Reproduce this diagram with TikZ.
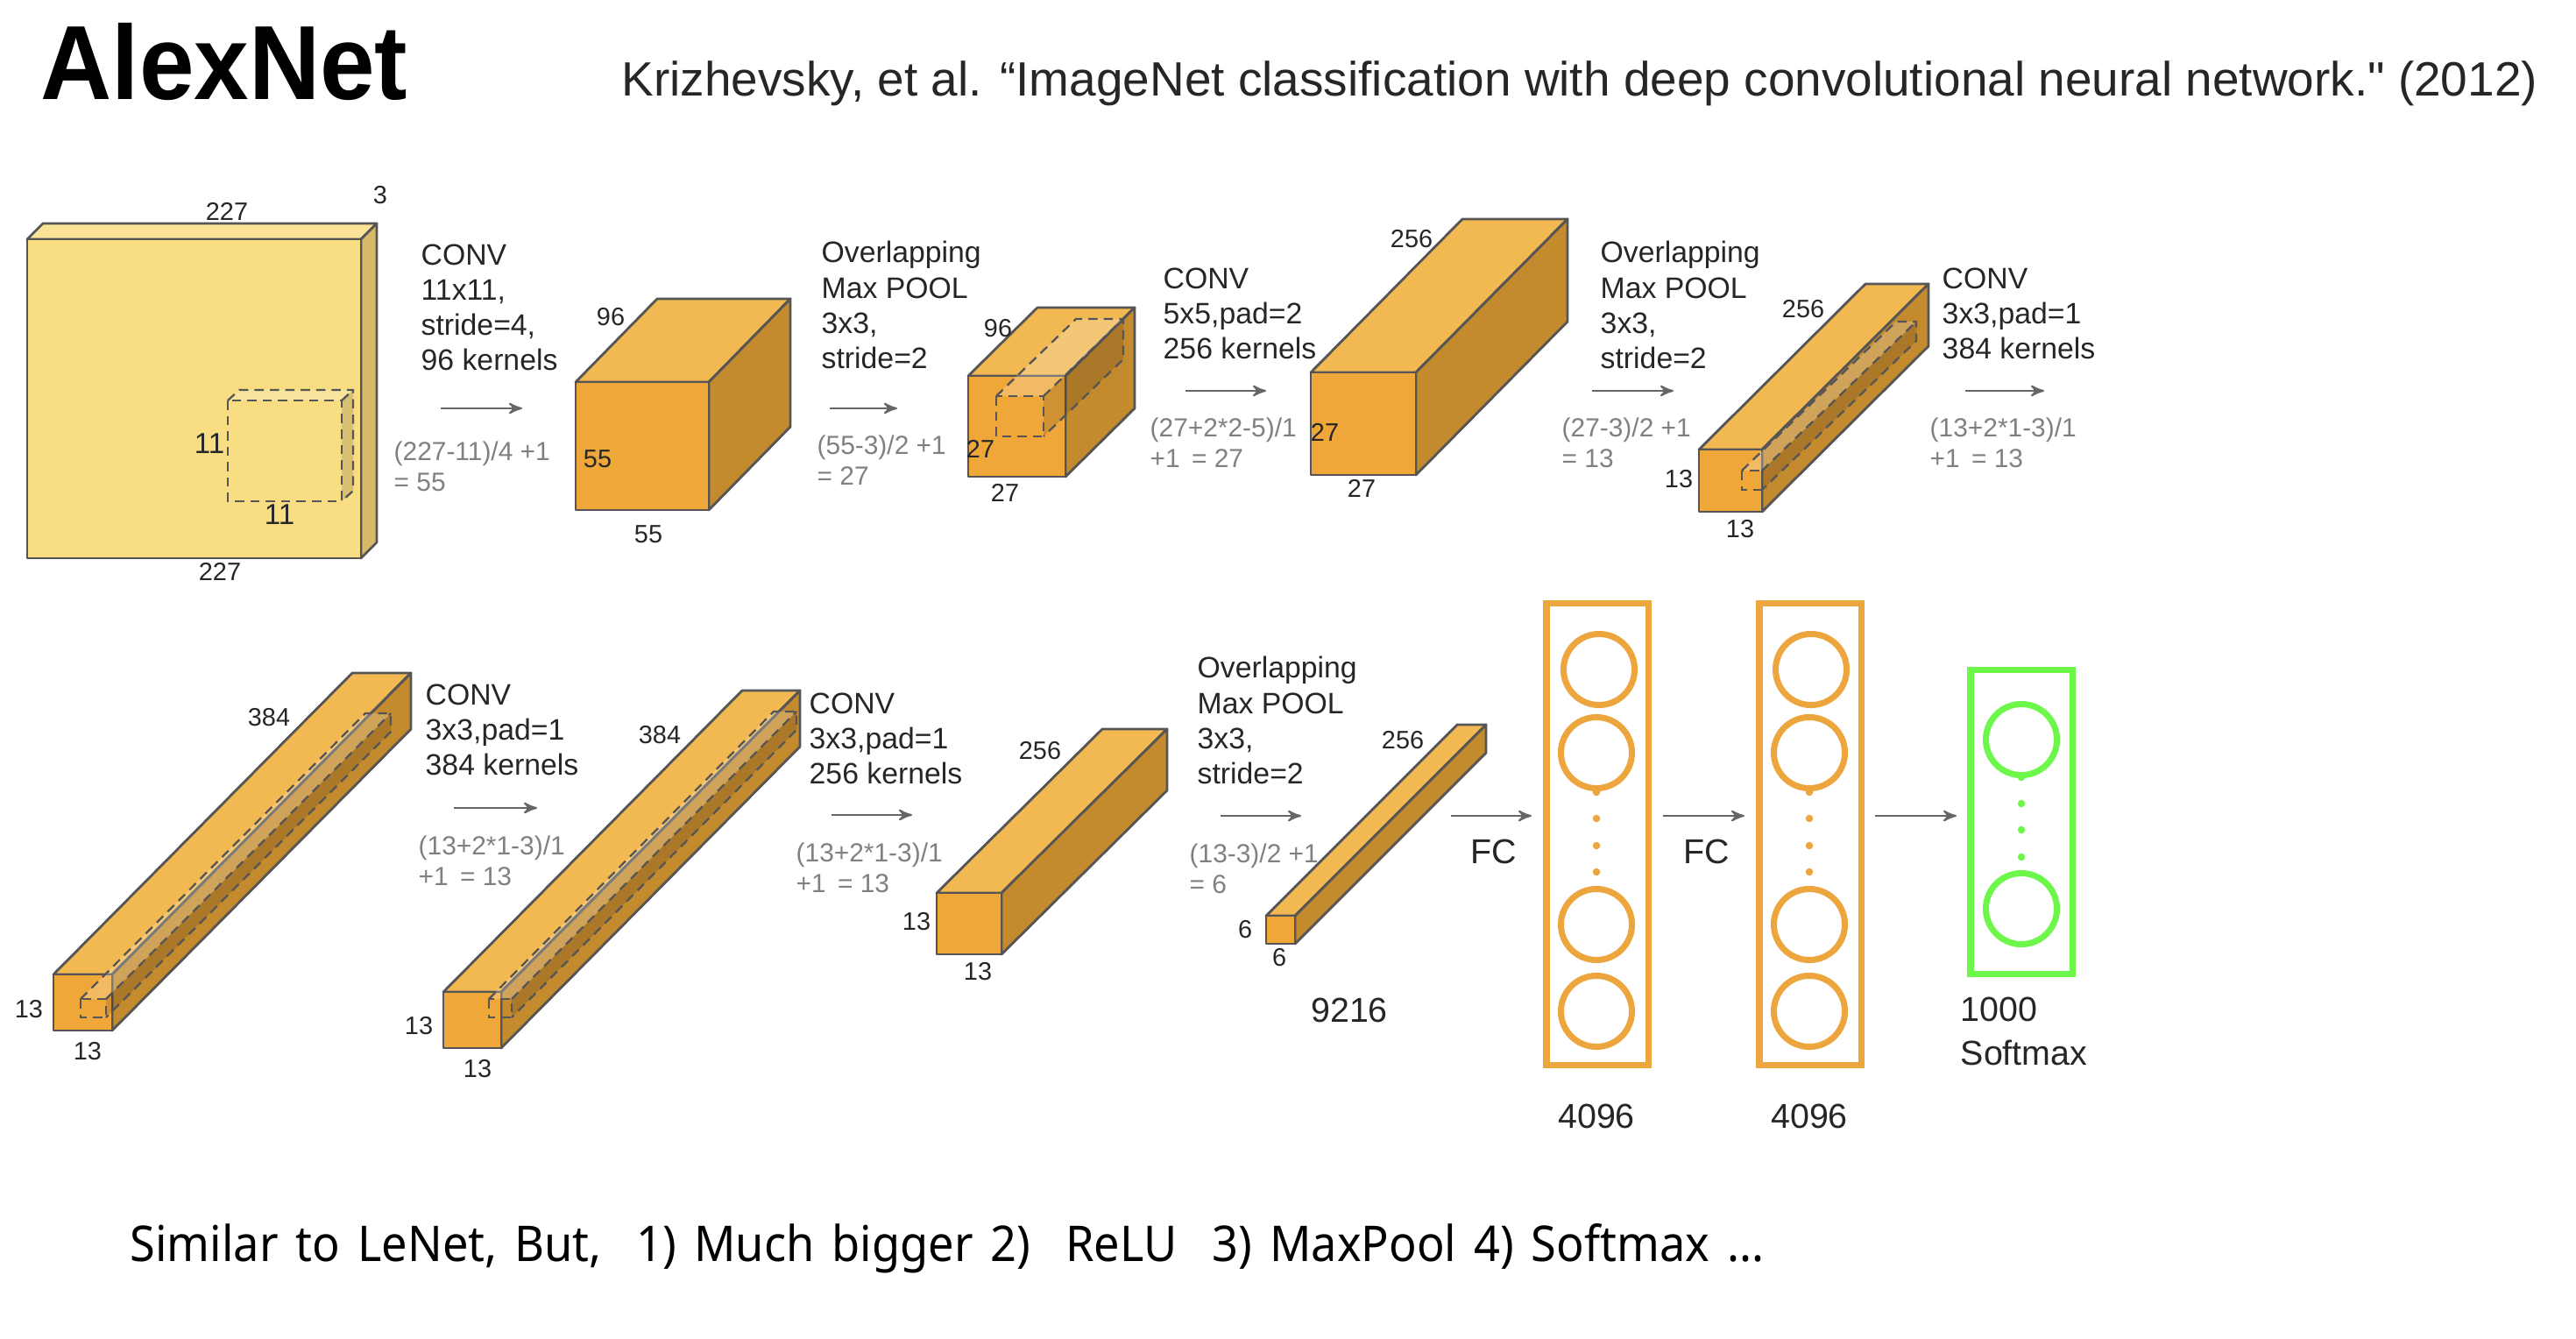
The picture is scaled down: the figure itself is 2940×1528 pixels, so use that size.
\documentclass[tikz,border=0pt]{standalone}
\usepackage{fontspec}
\setmainfont[Ligatures=TeXOff]{Liberation Sans}
\newfontfamily\titlefont[FakeStretch=0.935]{Liberation Sans}
\newfontfamily\notefont[FakeStretch=0.93,WordSpace=1.47]{Noto Sans}
\usetikzlibrary{arrows,calc,positioning}

\definecolor{inkgray}{HTML}{555555}
\definecolor{fcorange}{HTML}{EDA53E}
\definecolor{softgreen}{HTML}{6CF74A}

\tikzset{
  cubefront/.style={fill={rgb,255:red,240;green,167;blue,58},draw=inkgray,line width=0.8pt,line join=round},
  cubetop/.style={fill={rgb,255:red,242;green,184;blue,82},draw=inkgray,line width=0.8pt,line join=round},
  cubeside/.style={fill={rgb,255:red,196;green,138;blue,46},draw=inkgray,line width=0.8pt,line join=round},
  inputfront/.style={fill={rgb,255:red,248;green,221;blue,130},draw=inkgray,line width=0.8pt,line join=round},
  inputtop/.style={fill={rgb,255:red,250;green,227;blue,150},draw=inkgray,line width=0.8pt,line join=round},
  inputside/.style={fill={rgb,255:red,214;green,186;blue,104},draw=inkgray,line width=0.8pt,line join=round},
  kernelline/.style={draw=inkgray,line width=0.65pt,dash pattern=on 3pt off 2pt},
  caption/.style={anchor=west,align=left,inner sep=0pt,text=black!85,font=\fontsize{9.6}{11.4}\selectfont},
  formula/.style={anchor=west,align=left,inner sep=0pt,text=black!50,font=\fontsize{8.5}{10}\selectfont},
  dimlabel/.style={inner sep=0pt,text=black!85,font=\fontsize{8.2}{10}\selectfont},
  kernellabel/.style={inner sep=0pt,text=black!85,font=\fontsize{9.4}{10}\selectfont},
  biglabel/.style={inner sep=0pt,text=black!85,font=\fontsize{11.2}{14}\selectfont},
  flow/.style={->,>=stealth',draw=black!60,line width=0.6pt},
  layer/.style={rectangle,line width=2pt,minimum width=1.16cm,minimum height=5.26cm},
  neuron/.style={circle,line width=2pt,inner sep=0pt,minimum size=0.81cm},
  pt/.style={circle,inner sep=0pt,minimum size=0.085cm},
}

% #1 style prefix, #2 name, #3 front top left, #4 front bottom right, #5 depth
\newcommand{\cuboid}[5][cube]{
  \coordinate (#2a) at (#3);
  \coordinate (#2c) at (#4);
  \coordinate (#2b) at (#2c |- #2a);
  \coordinate (#2d) at (#2a |- #2c);
  \draw[#1top] (#2a) -- (#2b) -- ($(#2b)+(#5)$) -- ($(#2a)+(#5)$) -- cycle;
  \draw[#1side] (#2b) -- ($(#2b)+(#5)$) -- ($(#2c)+(#5)$) -- (#2c) -- cycle;
  \draw[#1front] (#2a) rectangle (#2c);
}
% #1 name, #2 front top left, #3 front bottom right, #4 depth
\newcommand{\kernel}[4]{
  \coordinate (#1a) at (#2);
  \coordinate (#1c) at (#3);
  \coordinate (#1b) at (#1c |- #1a);
  \fill[white,fill opacity=0.22] (#1a) -- (#1b) -- ($(#1b)+(#4)$) -- ($(#1a)+(#4)$) -- cycle;
  \fill[black,fill opacity=0.13] (#1b) -- ($(#1b)+(#4)$) -- ($(#1c)+(#4)$) -- (#1c) -- cycle;
  \draw[kernelline] (#1a) rectangle (#1c);
  \draw[kernelline] (#1a) -- ($(#1a)+(#4)$) -- ($(#1b)+(#4)$) -- ($(#1c)+(#4)$) -- (#1c);
  \draw[kernelline] (#1b) -- ($(#1b)+(#4)$);
}

\begin{document}
\begin{tikzpicture}[x=0.01cm,y=-0.01cm]
  \useasboundingbox (0,0) rectangle (2940,1528);

  % header
  \node[anchor=west,inner sep=0pt] (title) at (46,71) {\fontsize{34.2}{36}\titlefont\bfseries AlexNet};
  \node[anchor=west,inner sep=0pt,text=black!85] (cite) at (709,95) {\fontsize{15.63}{18}\selectfont Krizhevsky, et al. “ImageNet classification with deep convolutional neural network." (2012)};

  % first row
  \cuboid[input]{img}{31,273}{412,637}{18,-18}
  \kernel{imgk}{260,457}{390,572}{13,-12}
  \node[dimlabel] (imgw) at (259,241) {227};
  \node[dimlabel] (imgd) at (434,223) {3};
  \node[dimlabel] (imgh) at (251,652) {227};
  \node[kernellabel] (imgkh) at (239,506) {11};
  \node[kernellabel] (imgkw) at (319,587) {11};

  \node[caption] (conv1) at (480,351) {CONV\\11x11,\\stride=4,\\96 kernels};
  \coordinate (a1s) at (503,466);
  \coordinate (a1e) at (596,466);
  \draw[flow] (a1s) -- (a1e);
  \node[formula] (calc1) at (449,532) {(227-11)/4 +1\\= 55};

  \cuboid{c1}{657,436}{809,582}{93,-95}
  \node[dimlabel] (c1d) at (697,362) {96};
  \node[dimlabel] (c1h) at (682,524) {55};
  \node[dimlabel] (c1w) at (740,610) {55};

  \node[caption] (pool1) at (937,348) {Overlapping\\Max POOL\\3x3,\\stride=2};
  \coordinate (a2s) at (947,466);
  \coordinate (a2e) at (1024,466);
  \draw[flow] (a2s) -- (a2e);
  \node[formula] (calc2) at (932,525) {(55-3)/2 +1\\= 27};

  \cuboid{p1}{1105,429}{1216,544}{79,-78}
  \kernel{p1k}{1137,452}{1191,498}{91,-88}
  \node[dimlabel] (p1d) at (1139,375) {96};
  \node[dimlabel] (p1h) at (1119,512) {27};
  \node[dimlabel] (p1w) at (1147,562) {27};

  \node[caption] (conv2) at (1327,358) {CONV\\5x5,pad=2\\256 kernels};
  \coordinate (a3s) at (1353,446);
  \coordinate (a3e) at (1445,446);
  \draw[flow] (a3s) -- (a3e);
  \node[formula] (calc3) at (1312,505) {(27+2*2-5)/1\\+1 \,= 27};

  \cuboid{c2}{1496,425}{1616,542}{173,-175}
  \node[dimlabel] (c2d) at (1611,273) {256};
  \node[dimlabel] (c2h) at (1512,493) {27};
  \node[dimlabel] (c2w) at (1554,557) {27};

  \node[caption] (pool2) at (1826,348) {Overlapping\\Max POOL\\3x3,\\stride=2};
  \coordinate (a4s) at (1817,446);
  \coordinate (a4e) at (1910,446);
  \draw[flow] (a4s) -- (a4e);
  \node[formula] (calc4) at (1782,505) {(27-3)/2 +1\\= 13};

  \cuboid{p2}{1939,513}{2011,584}{190,-189}
  \kernel{p2k}{1988,537}{2011,559}{176,-170}
  \node[dimlabel] (p2d) at (2058,353) {256};
  \node[dimlabel] (p2h) at (1916,547) {13};
  \node[dimlabel] (p2w) at (1986,604) {13};

  \node[caption] (conv3) at (2216,358) {CONV\\3x3,pad=1\\384 kernels};
  \coordinate (a5s) at (2243,446);
  \coordinate (a5e) at (2333,446);
  \draw[flow] (a5s) -- (a5e);
  \node[formula] (calc5) at (2202,505) {(13+2*1-3)/1\\+1 \,= 13};

  % second row
  \cuboid{c3}{61,1112}{128,1176}{341,-344}
  \kernel{c3k}{92,1140}{121,1161}{325,-326}
  \node[dimlabel] (c3d) at (307,819) {384};
  \node[dimlabel] (c3h) at (33,1152) {13};
  \node[dimlabel] (c3w) at (100,1200) {13};

  \node[caption] (conv4) at (485,833) {CONV\\3x3,pad=1\\384 kernels};
  \coordinate (a6s) at (518,922);
  \coordinate (a6e) at (613,922);
  \draw[flow] (a6s) -- (a6e);
  \node[formula] (calc6) at (477,982) {(13+2*1-3)/1\\+1 \,= 13};

  \cuboid{c4}{506,1132}{572,1196}{341,-344}
  \kernel{c4k}{558,1140}{584,1161}{325,-328}
  \node[dimlabel] (c4d) at (753,839) {384};
  \node[dimlabel] (c4h) at (478,1171) {13};
  \node[dimlabel] (c4w) at (545,1220) {13};

  \node[caption] (conv5) at (923,843) {CONV\\3x3,pad=1\\256 kernels};
  \coordinate (a7s) at (949,930);
  \coordinate (a7e) at (1041,930);
  \draw[flow] (a7s) -- (a7e);
  \node[formula] (calc7) at (908,990) {(13+2*1-3)/1\\+1 \,= 13};

  \cuboid{c5}{1069,1019}{1143,1089}{189,-187}
  \node[dimlabel] (c5d) at (1187,857) {256};
  \node[dimlabel] (c5h) at (1046,1052) {13};
  \node[dimlabel] (c5w) at (1116,1109) {13};

  \node[caption] (pool3) at (1366,822) {Overlapping\\Max POOL\\3x3,\\stride=2};
  \coordinate (a8s) at (1393,931);
  \coordinate (a8e) at (1485,931);
  \draw[flow] (a8s) -- (a8e);
  \node[formula] (calc8) at (1357,991) {(13-3)/2 +1\\= 6};

  \cuboid{p3}{1445,1045}{1478,1077}{218,-218}
  \node[dimlabel] (p3d) at (1601,845) {256};
  \node[dimlabel] (p3h) at (1421,1061) {6};
  \node[dimlabel] (p3w) at (1460,1093) {6};
  \node[biglabel] (flat) at (1540,1153) {9216};

  % fully connected layers
  \node[layer,draw=fcorange] (fc1) at (1823,952) {};
  \node[neuron,draw=fcorange] (fc1a) at (1825,764) {};
  \node[neuron,draw=fcorange] (fc1b) at (1822,859) {};
  \node[pt,fill=fcorange] (fc1p) at (1822,904) {};
  \node[pt,fill=fcorange] (fc1q) at (1822,934) {};
  \node[pt,fill=fcorange] (fc1r) at (1822,965) {};
  \node[pt,fill=fcorange] (fc1s) at (1822,995) {};
  \node[neuron,draw=fcorange] (fc1c) at (1822,1055) {};
  \node[neuron,draw=fcorange] (fc1d) at (1822,1154) {};

  \node[layer,draw=fcorange] (fc2) at (2066,952) {};
  \node[neuron,draw=fcorange] (fc2a) at (2067,764) {};
  \node[neuron,draw=fcorange] (fc2b) at (2065,859) {};
  \node[pt,fill=fcorange] (fc2p) at (2065,904) {};
  \node[pt,fill=fcorange] (fc2q) at (2065,934) {};
  \node[pt,fill=fcorange] (fc2r) at (2065,965) {};
  \node[pt,fill=fcorange] (fc2s) at (2065,995) {};
  \node[neuron,draw=fcorange] (fc2c) at (2065,1055) {};
  \node[neuron,draw=fcorange] (fc2d) at (2065,1154) {};

  \node[layer,draw=softgreen,minimum height=3.47cm] (out) at (2307,938) {};
  \node[neuron,draw=softgreen] (outa) at (2307,844) {};
  \node[pt,fill=softgreen] (outp) at (2307,887) {};
  \node[pt,fill=softgreen] (outq) at (2307,917) {};
  \node[pt,fill=softgreen] (outr) at (2307,947) {};
  \node[pt,fill=softgreen] (outs) at (2307,978) {};
  \node[neuron,draw=softgreen] (outb) at (2307,1037) {};

  \coordinate (f1s) at (1656,931);
  \coordinate (f2s) at (1898,931);
  \coordinate (f3s) at (2140,931);
  \coordinate (f1e) at (1748,931);
  \coordinate (f2e) at (1991,931);
  \coordinate (f3e) at (2233,931);
  \draw[flow] (f1s) -- (f1e);
  \draw[flow] (f2s) -- (f2e);
  \draw[flow] (f3s) -- (f3e);

  \node[biglabel] (fcl1) at (1705,972) {FC};
  \node[biglabel] (fcl2) at (1948,972) {FC};
  \node[biglabel] (fcn1) at (1822,1274) {4096};
  \node[biglabel] (fcn2) at (2065,1274) {4096};
  \node[biglabel,anchor=west,align=left] (outn) at (2237,1177) {1000\\Softmax};

  % footer
  \node[anchor=west,inner sep=0pt] (note) at (148,1425) {\fontsize{16}{20}\notefont Similar to LeNet, But, \ 1) Much bigger 2) \ ReLU \ 3) MaxPool 4) Softmax ...};
\end{tikzpicture}
\end{document}
